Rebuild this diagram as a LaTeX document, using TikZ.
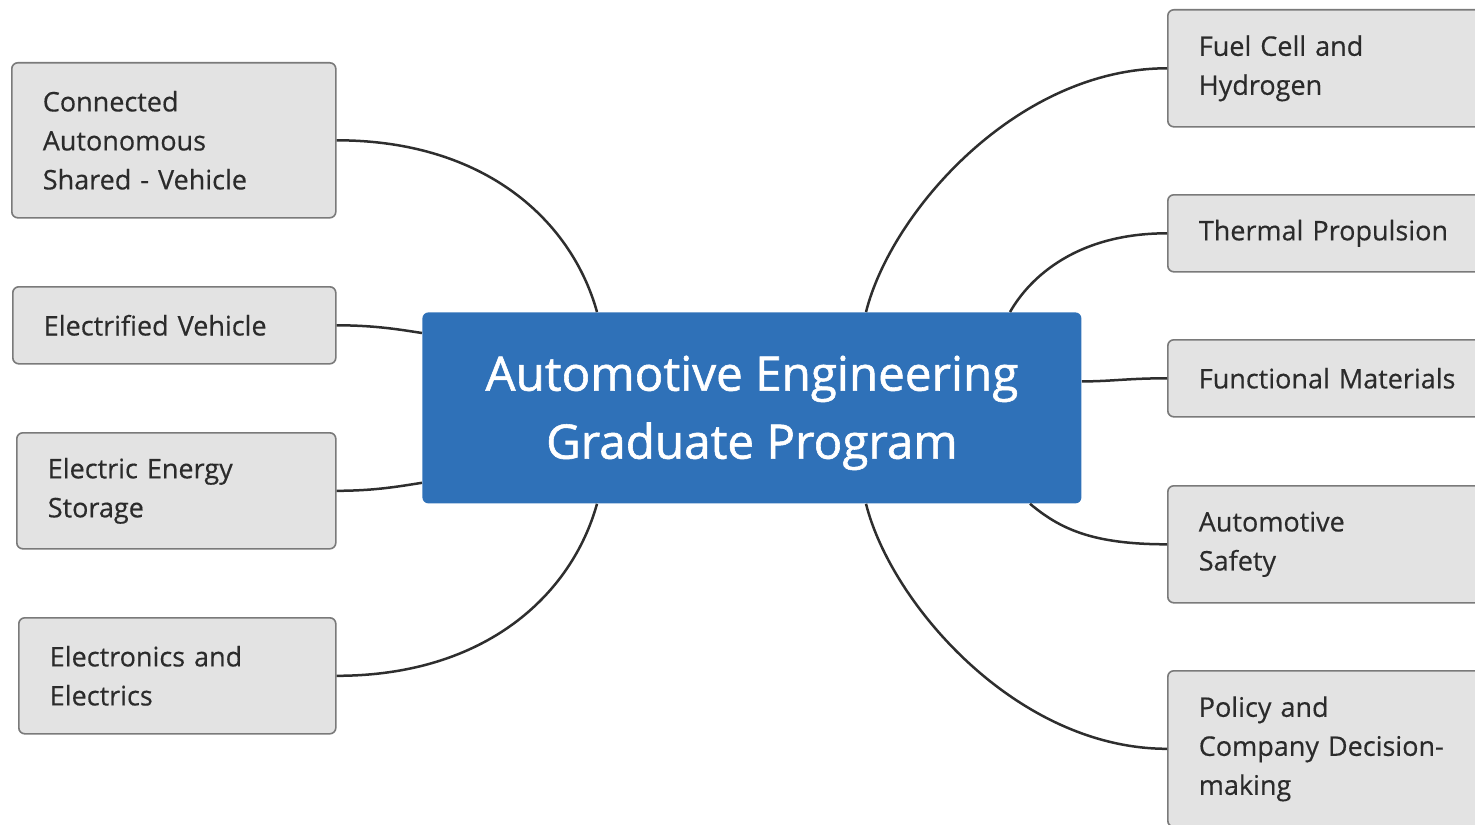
\documentclass[tikz,border=0pt]{standalone}
\usepackage{fontspec}
\setmainfont{Open Sans}
\newfontfamily\hubFont[FakeBold=1.2]{Open Sans}
\newfontfamily\topicFont[FakeBold=0.4]{Open Sans}
\usetikzlibrary{positioning}

\definecolor{topicFill}{HTML}{E3E3E3}
\definecolor{topicLine}{HTML}{7A7A7A}
\definecolor{topicText}{HTML}{2B2B2B}
\definecolor{hubBlue}{HTML}{2F71B8}
\definecolor{linkGray}{HTML}{2E2E2E}

\tikzstyle{topicNode} = [rectangle, rounded corners=3pt, anchor=north west, draw=topicLine, line width=0.8pt, fill=topicFill, text=topicText, inner xsep=15.5pt, align=left, font=\topicFont\fontsize{13.5}{19.5}\selectfont]
\tikzstyle{hubNode} = [rectangle, rounded corners=3pt, anchor=north west, fill=hubBlue, text=white, align=center, minimum width=329.5pt, minimum height=95.5pt, font=\hubFont\fontsize{23.8}{34}\selectfont]
\tikzstyle{link} = [draw=linkGray, line width=1.25pt]

\begin{document}
\begin{tikzpicture}[x=0.5pt, y=-0.5pt]
    \clip (0,0) rectangle (1475,824);

    \node (hub)[hubNode] at (422,312) {\rule{0pt}{22.5pt}Automotive Engineering\\Graduate Program};

    % left column
    \node (cas)[topicNode, text width=131pt, minimum height=77.5pt] at (11,62) {Connected\\Autonomous\\Shared - Vehicle};
    \node (ev)[topicNode, text width=130.5pt, minimum height=38.5pt] at (12,286) {Electrified Vehicle};
    \node (ees)[topicNode, text width=128.5pt, minimum height=58pt] at (16,432) {Electric Energy\\Storage};
    \node (ee)[topicNode, text width=127.5pt, minimum height=58pt] at (18,617) {Electronics and\\Electrics};

    % right column
    \node (fc)[topicNode, text width=149pt, minimum height=58.5pt] at (1167,9) {Fuel Cell and\\Hydrogen};
    \node (tp)[topicNode, text width=149pt, minimum height=38.5pt] at (1167,194) {Thermal Propulsion};
    \node (fm)[topicNode, text width=149pt, minimum height=38.5pt] at (1167,339) {Functional Materials};
    \node (as)[topicNode, text width=149pt, minimum height=58.5pt] at (1167,485) {Automotive\\Safety};
    \node (pol)[topicNode, text width=149pt, minimum height=78pt] at (1167,670) {Policy and\\Company Decision-\\making};

    \draw [link] (cas.east) .. controls +(150,0) and +(-25,-90) .. ([xshift=87.5pt]hub.north west);
    \draw [link] (ev.east) .. controls +(40,0) and +(-20,-3) .. ([yshift=-10.5pt]hub.north west);
    \draw [link] (ees.east) .. controls +(40,0) and +(-20,3) .. ([yshift=10.5pt]hub.south west);
    \draw [link] (ee.east) .. controls +(150,0) and +(-25,90) .. ([xshift=87.5pt]hub.south west);

    \draw [link] (fc.west) .. controls +(-150,0) and +(25,-100) .. ([xshift=222pt]hub.north west);
    \draw [link] (tp.west) .. controls +(-90,0) and +(20,-35) .. ([xshift=294pt]hub.north west);
    \draw [link] (fm.west) .. controls +(-40,0) and +(30,0) .. ([yshift=13.25pt]hub.east);
    \draw [link] (as.west) .. controls +(-75,0) and +(30,25) .. ([xshift=304pt]hub.south west);
    \draw [link] (pol.west) .. controls +(-150,0) and +(25,100) .. ([xshift=222pt]hub.south west);
\end{tikzpicture}
\end{document}
